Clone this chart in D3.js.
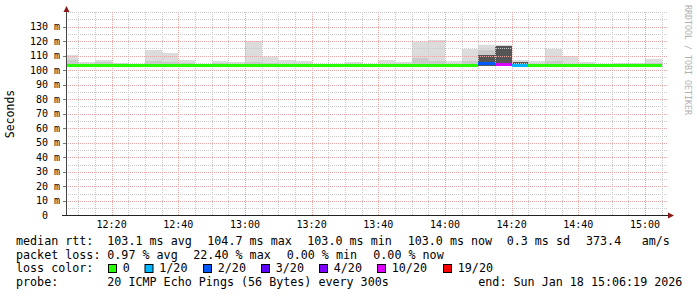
<!DOCTYPE html>
<html>
<head>
<meta charset="utf-8">
<script src="https://cdn.jsdelivr.net/npm/d3@7"></script>
<style>
  body { margin: 0; background: #fff; }
  text { font-family: "DejaVu Sans Mono", monospace; white-space: pre; }
</style>
</head>
<body>
<svg id="chart"></svg>
<script>
// 5 minute bins, start time of each
const binStarts = ['12:05','12:10','12:15','12:20','12:25','12:30','12:35','12:40','12:45','12:50','12:55',
                   '13:00','13:05','13:10','13:15','13:20','13:25','13:30','13:35','13:40','13:45','13:50','13:55',
                   '14:00','14:05','14:10','14:15','14:20','14:25','14:30','14:35','14:40','14:45','14:50','14:55','15:00'];
// median rtt (ms)
const median = [103.3,103.3,103.3,103.3,103.3,103.3,103.3,103.3,103.3,103.3,103.3,
                103.3,103.3,103.3,103.3,103.3,103.3,103.3,103.3,103.3,103.3,103.3,103.3,
                103.3,103.3,104.9,103.7,103.5,103.3,103.3,103.3,103.3,103.3,103.3,103.3,103.3];
// smoke: lowest ping, highest ping, inner band top, dark band top (ms)
const smokeMin = [103.0,103.0,103.0,103.0,103.0,103.0,103.0,103.0,103.0,103.0,103.0,
                  103.0,103.0,103.0,103.0,103.0,103.0,103.0,103.0,103.0,103.0,103.0,103.0,
                  103.0,103.0,103.0,103.0,103.0,103.0,103.0,103.0,103.0,103.0,103.0,103.0,103.0];
const smokeMax = [110.4,105.8,107.0,104.9,104.2,113.8,112.0,107.0,104.3,106.0,105.5,
                  120.2,109.0,107.0,106.0,104.2,104.2,105.5,104.2,107.0,105.5,119.3,120.7,
                  106.0,114.5,117.3,117.3,107.0,106.0,114.5,110.0,105.8,104.5,105.0,105.0,107.6];
const smokeInner = [107.0,null,105.5,null,null,106.0,105.8,105.2,null,105.0,null,
                    105.8,105.0,null,null,null,null,null,null,null,null,108.3,106.0,
                    null,106.0,113.8,null,null,null,106.0,null,null,null,null,null,105.2];
const smokeDark = [null,null,null,null,null,null,null,null,null,null,null,
                   null,null,null,null,null,null,null,null,null,null,null,null,
                   null,null,110.4,116.8,105.8,null,null,null,null,null,null,null,null];
// lost pings per bin (of 20)
const lossCount = [0,0,0,0,0,0,0,0,0,0,0,0,0,0,0,0,0,0,0,0,0,0,0,0,0,2,10,1,0,0,0,0,0,0,0,0];

const yTicks = [0,10,20,30,40,50,60,70,80,90,100,110,120,130];
const xTicks = ['12:20','12:40','13:00','13:20','13:40','14:00','14:20','14:40','15:00'];

const lossLevels = ['0','1/20','2/20','3/20','4/20','10/20','19/20'];
const lossThresh = [0,1,2,3,4,10,19];
const lossColors = ['#26ff00','#00b8ff','#0059ff','#5e00ff','#7e00ff','#dd00ff','#ff0000'];

const rttStats = ['103.1 ms avg','104.7 ms max','103.0 ms min','103.0 ms now','0.3 ms sd','373.4','am/s'];
const lossStats = ['0.97 % avg','22.40 % max','0.00 % min','0.00 % now'];
const probeText = '20 ICMP Echo Pings (56 Bytes) every 300s';
const endText = 'end: Sun Jan 18 15:06:19 2026';

const W = 697, H = 297;
const svg = d3.select('#chart').attr('width', W).attr('height', H);
svg.append('rect').attr('width', W).attr('height', H).attr('fill', '#fff');

const parse = d3.timeParse('%H:%M:%S');
const hm = s => parse(s + ':00');
const x = d3.scaleTime().domain([parse('12:06:19'), parse('15:06:19')]).range([66, 666]);
const y = d3.scaleLinear().domain([0, 140]).range([215.5, 12]);

const TOP = 12, BOT = 215.5, LEFT = 66, RIGHT = 668;

svg.append('clipPath').attr('id', 'plot')
  .append('rect').attr('x', LEFT).attr('y', 0).attr('width', RIGHT - LEFT).attr('height', BOT);

// smoke
const plot = svg.append('g').attr('clip-path', 'url(#plot)').attr('shape-rendering', 'crispEdges');
const bins = binStarts.map((s, i) => {
  const t0 = hm(s);
  return { i, x0: Math.round(x(t0)), x1: Math.round(x(d3.timeMinute.offset(t0, 5))) };
});
const band = (key, data, color) => {
  plot.selectAll('.' + key).data(bins.filter(b => data[b.i] != null)).join('rect')
    .attr('x', b => b.x0).attr('width', b => b.x1 - b.x0)
    .attr('y', b => Math.round(y(data[b.i])))
    .attr('height', b => Math.round(y(smokeMin[b.i])) - Math.round(y(data[b.i])))
    .attr('fill', color);
};
band('smax', smokeMax, '#dcdcdc');
band('sinner', smokeInner, '#c9c9c9');
band('sdark', smokeDark, '#555555');

// grid, drawn over the smoke like rrdtool does
const grid = svg.append('g');
const minorY = d3.range(5, 141, 5).filter(v => v % 10 !== 0 || v > 130);
const majorY = yTicks.filter(v => v > 0);
grid.selectAll('.gy').data(minorY).join('line')
  .attr('x1', LEFT).attr('x2', RIGHT)
  .attr('y1', d => Math.round(y(d)) + 0.5).attr('y2', d => Math.round(y(d)) + 0.5)
  .attr('stroke', '#c8c8c8').attr('stroke-dasharray', '1,1');
const minorX = binStarts.slice(1).concat(['15:05']).filter(s => xTicks.indexOf(s) < 0);
grid.selectAll('.gx').data(minorX).join('line')
  .attr('x1', d => Math.round(x(hm(d))) + 0.5).attr('x2', d => Math.round(x(hm(d))) + 0.5)
  .attr('y1', TOP).attr('y2', BOT)
  .attr('stroke', '#c8c8c8').attr('stroke-dasharray', '1,1');
grid.selectAll('.my').data(majorY).join('line')
  .attr('x1', LEFT).attr('x2', RIGHT)
  .attr('y1', d => Math.round(y(d)) + 0.5).attr('y2', d => Math.round(y(d)) + 0.5)
  .attr('stroke', '#eba5a5').attr('stroke-dasharray', '1,1');
grid.selectAll('.mx').data(xTicks).join('line')
  .attr('x1', d => Math.round(x(hm(d))) + 0.5).attr('x2', d => Math.round(x(hm(d))) + 0.5)
  .attr('y1', TOP).attr('y2', BOT)
  .attr('stroke', '#eba5a5').attr('stroke-dasharray', '1,1');

// median line coloured by loss
const lossColor = n => {
  let c = lossColors[0];
  lossThresh.forEach((t, k) => { if (n >= t) c = lossColors[k]; });
  return c;
};
svg.append('g').attr('clip-path', 'url(#plot)').attr('shape-rendering', 'crispEdges')
  .selectAll('.med').data(bins).join('rect')
  .attr('x', b => b.x0).attr('width', b => b.x1 - b.x0)
  .attr('y', b => Math.round(y(median[b.i]) - 1.5)).attr('height', 3)
  .attr('fill', b => lossColor(lossCount[b.i]));

// axes
const axis = svg.append('g').attr('shape-rendering', 'crispEdges');
axis.append('line').attr('x1', 66.5).attr('x2', 66.5).attr('y1', 216).attr('y2', 10).attr('stroke', '#444');
axis.append('line').attr('x1', 62).attr('x2', 670).attr('y1', 215.5).attr('y2', 215.5).attr('stroke', '#222');
axis.selectAll('.ty').data(majorY).join('line')
  .attr('x1', 63).attr('x2', 66)
  .attr('y1', d => Math.round(y(d)) + 0.5).attr('y2', d => Math.round(y(d)) + 0.5)
  .attr('stroke', '#777');
svg.append('path').attr('d', 'M66.5,6L63.5,12L69.5,12Z').attr('fill', '#8b1a1a');
svg.append('path').attr('d', 'M674,215.5L668,212.5L668,218.5Z').attr('fill', '#8b1a1a');

// tick labels
svg.selectAll('.yl').data(yTicks).join('text')
  .attr('x', 60).attr('y', d => y(d)).attr('dy', '0.35em')
  .attr('text-anchor', 'end').attr('font-size', 10).attr('fill', '#000')
  .text(d => d === 0 ? '0  ' : d + ' m');
svg.selectAll('.xl').data(xTicks).join('text')
  .attr('x', d => x(hm(d))).attr('y', 228)
  .attr('text-anchor', 'middle').attr('font-size', 10).attr('fill', '#000')
  .text(d => d);

svg.append('text').attr('transform', 'translate(14,114) rotate(-90)')
  .attr('text-anchor', 'middle').attr('font-size', 11.5).text('Seconds');
svg.append('text').attr('transform', 'translate(685,5) rotate(90)')
  .attr('font-size', 9.5).attr('fill', '#b0b0b0')
  .attr('textLength', 110).attr('lengthAdjust', 'spacingAndGlyphs')
  .text('RRDTOOL / TOBI OETIKER');

// legend
const lg = svg.append('g').attr('font-size', 11.7).attr('fill', '#000');
const rows = [245, 258.5, 272.3, 286];
['median rtt:', 'packet loss:', 'loss color:', 'probe:'].forEach((s, k) => {
  lg.append('text').attr('x', 16).attr('y', rows[k]).text(s);
});
const rttX = [107.3, 207.3, 307.3, 407.7, 506.7, 586, 641.7];
rttStats.forEach((s, k) => lg.append('text').attr('x', rttX[k]).attr('y', rows[0]).text(s));
const lossX = [107.3, 193.3, 286.7, 373.3];
lossStats.forEach((s, k) => lg.append('text').attr('x', lossX[k]).attr('y', rows[1]).text(s));
const boxX = [108.5, 145, 203.5, 261.5, 319.5, 377.5, 443.5];
lossLevels.forEach((s, k) => {
  lg.append('rect').attr('x', boxX[k]).attr('y', 264.5).attr('width', 8).attr('height', 8)
    .attr('fill', lossColors[k]).attr('stroke', '#000');
  lg.append('text').attr('x', boxX[k] + 14.3).attr('y', rows[2]).text(s);
});
lg.append('text').attr('x', 107.3).attr('y', rows[3]).text(probeText);
lg.append('text').attr('x', 478.3).attr('y', rows[3]).text(endText);
</script>
</body>
</html>
